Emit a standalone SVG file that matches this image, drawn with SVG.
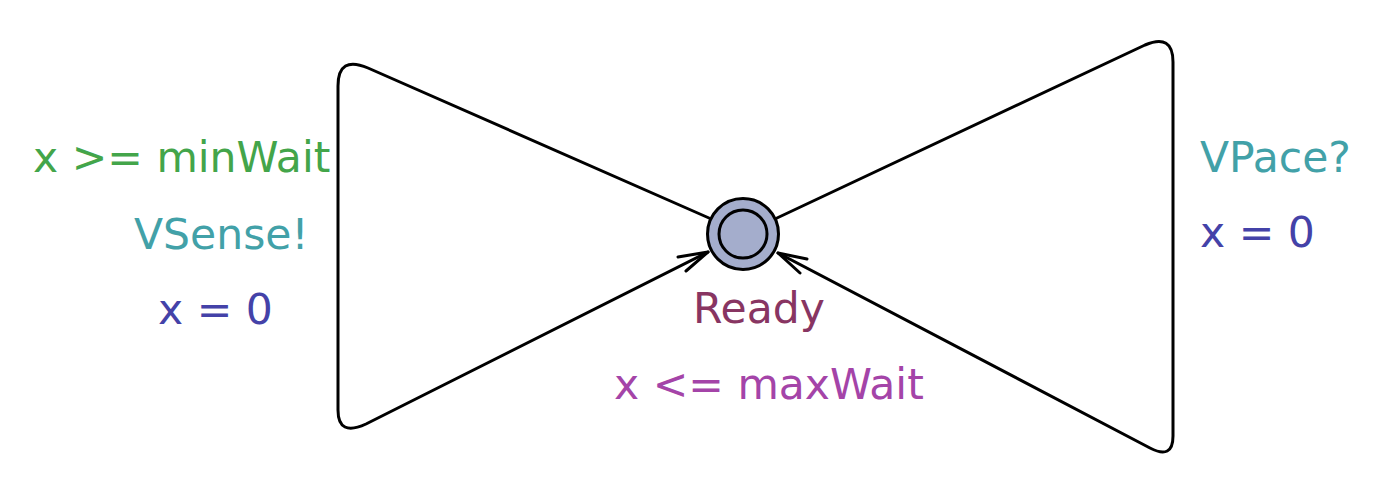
<svg xmlns="http://www.w3.org/2000/svg" width="1384" height="488" viewBox="0 0 1384 488">
<style>
text{font-family:"DejaVu Sans",sans-serif;font-size:42.5px}
.e{fill:none;stroke:#000;stroke-width:3;stroke-linecap:round;stroke-linejoin:round}
.g{fill:#43a54a}.s{fill:#42a1a8}.a{fill:#4442a8}.n{fill:#883562}.i{fill:#a444a8}
</style>
<rect width="1384" height="488" fill="#fff"/>
<g id="connectors">
<g id="edge-left">
<path class="e" d="M709,218 L368,68 Q338,55 338,86 L338,410 Q338,437 366,424 L708,252"/>
<path class="e" d="M678,257 L708,252 L686,271"/>
<text class="g" x="33" y="172">x &gt;= minWait</text>
<text class="s" x="134" y="249">VSense!</text>
<text class="a" x="158" y="324">x = 0</text>
</g>
<g id="edge-right">
<path class="e" d="M777,218 L1145,45 Q1173,33 1173,62 L1173,436 Q1173,460 1150,448 L778,253"/>
<path class="e" d="M807,259 L778,253 L800,273"/>
<text class="s" x="1200" y="172">VPace?</text>
<text class="a" x="1200" y="247">x = 0</text>
</g>
</g>
<g id="Ready">
<circle cx="743" cy="234" r="35.5" fill="#a4adcc" stroke="#000" stroke-width="3"/>
<circle cx="743" cy="234" r="24" fill="none" stroke="#000" stroke-width="3"/>
<text class="n" x="693" y="323">Ready</text>
<text class="i" x="614" y="399">x &lt;= maxWait</text>
</g>
</svg>
